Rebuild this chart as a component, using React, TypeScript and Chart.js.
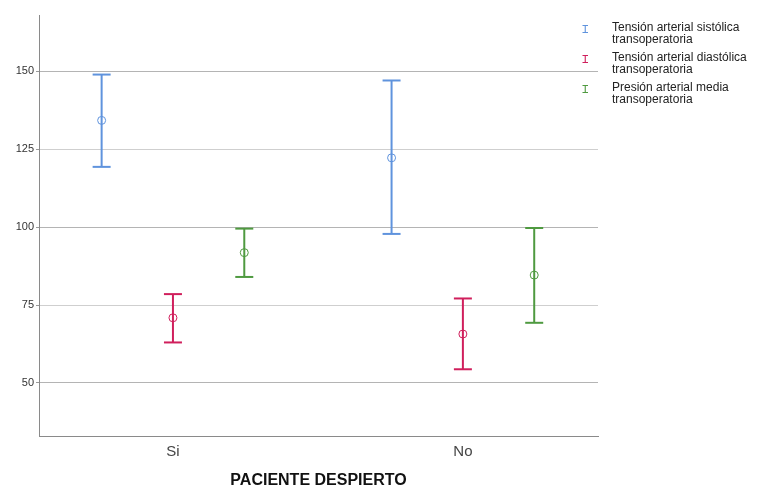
import React, { useEffect, useRef } from "react";
import { Chart, registerables } from "chart.js";

Chart.register(...registerables);

const categories = ["Si", "No"];
const seriesNames = [
  ["Tensión arterial sistólica", "transoperatoria"],
  ["Tensión arterial diastólica", "transoperatoria"],
  ["Presión arterial media", "transoperatoria"],
];
const seriesColors = ["#5f93dd", "#d01f5c", "#4f9a40"];

const sistolicaMean = [134.2, 122.2];
const sistolicaLow = [119.3, 97.8];
const sistolicaHigh = [148.9, 147.0];

const diastolicaMean = [70.9, 65.7];
const diastolicaLow = [63.0, 54.4];
const diastolicaHigh = [78.5, 77.1];

const mediaMean = [91.8, 84.6];
const mediaLow = [84.0, 69.3];
const mediaHigh = [99.5, 99.7];

const yTicks = [50, 75, 100, 125, 150];
const yMin = 33;
const yMax = 168;
const xOffsets = [-0.246, 0, 0.246];

const means = [sistolicaMean, diastolicaMean, mediaMean];
const lows = [sistolicaLow, diastolicaLow, mediaLow];
const highs = [sistolicaHigh, diastolicaHigh, mediaHigh];

export default function App() {
  const ref = useRef<HTMLCanvasElement>(null);

  useEffect(() => {
    const datasets: any[] = [];
    means.forEach((m, s) => {
      categories.forEach((_, c) => {
        const x = c + 1 + xOffsets[s];
        datasets.push({
          type: "line",
          data: [
            { x, y: lows[s][c] },
            { x, y: highs[s][c] },
          ],
          borderColor: seriesColors[s],
          borderWidth: 2,
          pointStyle: "line",
          pointRadius: 9,
          pointBorderWidth: 2,
          pointBorderColor: seriesColors[s],
          fill: false,
          tension: 0,
        });
      });
      datasets.push({
        type: "scatter",
        data: categories.map((_, c) => ({ x: c + 1 + xOffsets[s], y: m[c] })),
        pointStyle: "circle",
        pointRadius: 4,
        pointBorderWidth: 1,
        pointBorderColor: seriesColors[s],
        pointBackgroundColor: "rgba(0,0,0,0)",
        borderColor: seriesColors[s],
        backgroundColor: "rgba(0,0,0,0)",
      });
    });

    const chart = new Chart(ref.current!, {
      type: "scatter",
      data: { datasets },
      options: {
        animation: false,
        responsive: true,
        maintainAspectRatio: false,
        layout: { padding: { top: 15, right: 160, left: 0, bottom: 0 } },
        plugins: { legend: { display: false }, tooltip: { enabled: false } },
        scales: {
          x: {
            type: "linear",
            min: 0.538,
            max: 2.466,
            afterBuildTicks: (scale: any) => {
              scale.ticks = categories.map((_, i) => ({ value: i + 1 }));
            },
            afterFit: (scale: any) => {
              scale.height = 54;
            },
            grid: { display: false, drawTicks: false },
            border: { display: true, color: "#8a8a8a", width: 1 },
            ticks: {
              padding: 7,
              color: "#444",
              font: { family: "Liberation Sans, Arial, sans-serif", size: 15 },
              callback: (v: any) => categories[Math.round(v) - 1] ?? "",
            },
            title: {
              display: true,
              text: "PACIENTE DESPIERTO",
              color: "#111",
              padding: { top: 0, bottom: 0 },
              font: { family: "Liberation Sans, Arial, sans-serif", size: 16, weight: "bold" },
            },
          },
          y: {
            type: "linear",
            min: yMin,
            max: yMax,
            afterBuildTicks: (scale: any) => {
              scale.ticks = yTicks.map((v) => ({ value: v }));
            },
            afterFit: (scale: any) => {
              scale.width = 39;
            },
            grid: {
              color: (ctx: any) => (ctx.tick && ctx.tick.value % 50 === 0 ? "#b4b4b4" : "#cfcfcf"),
              tickColor: "#999",
              tickLength: 3,
              lineWidth: 1,
            },
            border: { display: true, color: "#8a8a8a", width: 1 },
            ticks: {
              padding: 2,
              color: "#333",
              font: { family: "Liberation Sans, Arial, sans-serif", size: 11 },
            },
          },
        },
      },
    });
    return () => chart.destroy();
  }, []);

  return (
    <div style={{ position: "fixed", left: 0, top: 0, width: 758, height: 490, background: "#fff" }}>
      <canvas ref={ref} />
      <div
        style={{
          position: "absolute",
          left: 582,
          top: 20.5,
          fontFamily: "Liberation Sans, Arial, sans-serif",
          fontSize: 12,
          lineHeight: "12px",
          color: "#222",
        }}
      >
        {seriesNames.map((lines, i) => (
          <div key={i} style={{ position: "relative", height: 30, paddingLeft: 30 }}>
            <svg width={7} height={8} style={{ position: "absolute", left: 0, top: 4 }}>
              <path d="M0.5 0.5 H6 M3.25 0.5 V7.5 M0.5 7.5 H6" stroke={seriesColors[i]} strokeWidth={1.1} fill="none" />
            </svg>
            {lines.map((l, j) => (
              <div key={j}>{l}</div>
            ))}
          </div>
        ))}
      </div>
    </div>
  );
}
